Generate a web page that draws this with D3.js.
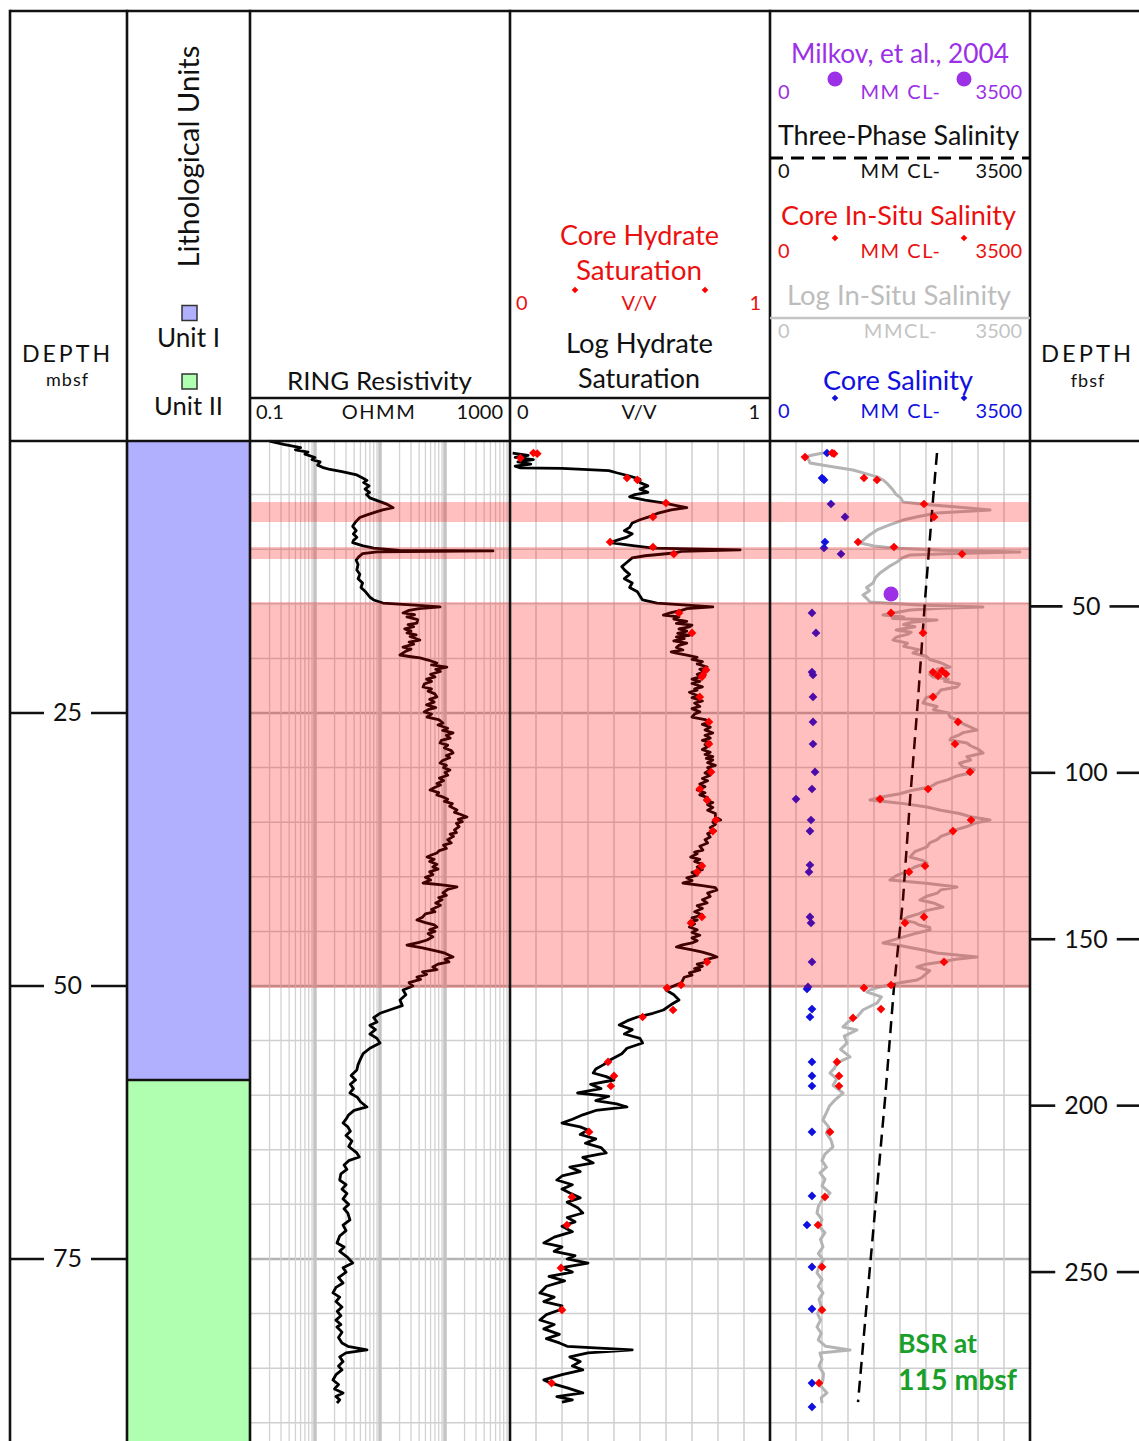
<!DOCTYPE html>
<html><head><meta charset="utf-8">
<script src="https://cdn.jsdelivr.net/npm/d3@7"></script>
<style>
body{margin:0;background:#fff}
svg{display:block}
text{font-family:Lato,"Noto Sans",sans-serif}
</style>
</head><body>
<svg id="chart" width="1139" height="1441"></svg>
<script>
// ---------------- DATA ----------------
const depthTicksM = [25, 50, 75];
const depthTicksFt = [50, 100, 150, 200, 250];
const hydrateZones = [[5.68, 7.51], [9.8, 10.9], [14.84, 50.18]];
const lithUnits = [
  {name: "Unit I", top: 0, base: 58.6, color: "#b0b0ff"},
  {name: "Unit II", top: 58.6, base: 92, color: "#b0ffb0"}
];
// RING resistivity [depth mbsf, ohm-m]
const resistivity = [[0.1,0.2],[0.4,0.33],[0.7,0.6],[0.9,0.5],[1.1,0.78],[1.3,0.7],[1.6,1.0],[1.8,0.9],[2.0,1.2],[2.3,1.1],[2.5,1.3],[2.7,1.7],[2.9,2.6],[3.2,4.4],[3.5,5.5],[3.7,6.3],[3.9,5.6],[4.2,6.8],[4.5,5.9],[4.8,6.9],[5.0,6.2],[5.3,7.0],[5.6,9.5],[5.9,13],[6.2,15.9],[6.4,11],[6.6,8.5],[6.9,6],[7.1,4.9],[7.5,4.2],[7.9,3.8],[8.3,4.3],[8.6,3.9],[8.9,4.4],[9.2,3.9],[9.4,3.8],[9.7,5.5],[9.9,8],[10.1,20],[10.16,547],[10.25,9],[10.4,5.4],[10.7,4.7],[11.0,4.3],[11.4,4.6],[11.9,4.4],[12.3,4.9],[12.7,4.6],[13.1,5.4],[13.5,5.1],[13.9,6.0],[14.4,7.0],[14.65,8],[14.93,11.1],[15.1,30],
[15.29,84],[15.45,40],[15.6,28],[15.84,22.6],[16.0,34],[16.2,26],[16.45,38],[16.76,37],[16.9,27],[17.1,33],[17.3,24],[17.5,30],[17.67,26],[17.85,36],[18.0,29],[18.32,41],[18.5,28],[18.7,33],[18.96,22.6],[19.15,30],[19.4,24],[19.69,20.3],[19.85,30],[19.96,41],[20.15,55],[20.42,75],[20.6,62],[20.79,107],[21.0,72],[21.2,85],[21.45,60],[21.7,70],[21.9,52],[22.1,62],[22.35,48],[22.62,46],[22.8,62],[23.0,55],[23.25,70],[23.53,75],[23.75,58],[24.0,68],[24.25,52],[24.5,72],[24.7,55],[24.9,48],[25.1,62],[25.37,53],[25.6,80],[25.92,93],[26.1,78],[26.4,110],[26.6,92],[26.83,133],[27.05,105],[27.3,120],[27.5,88],[27.75,84],[27.95,110],[28.2,98],[28.45,125],[28.66,133],[28.9,105],[29.1,118],[29.35,92],[29.58,84],[29.8,105],[30.0,95],[30.22,119],[30.45,100],[30.7,110],[30.95,82],[31.2,95],[31.45,75],[31.6,85],[31.85,68],[32.05,59],[32.3,80],[32.5,75],[32.69,93],[32.9,110],[33.1,98],[33.3,130],[33.55,118],[33.88,153],[34.1,140],[34.3,175],[34.52,218],[34.75,160],[34.95,185],[35.1,150],[35.4,165],[35.71,140],[35.95,150],[36.1,120],[36.3,135],[36.6,110],[36.9,125],[37.1,95],[37.4,105],[37.6,82],[37.82,75],[38.0,62],[38.19,53],[38.4,68],[38.6,58],[38.85,75],[39.1,65],[39.3,78],[39.55,58],[39.8,65],[40.05,50],[40.3,60],[40.57,46],[40.75,90],[40.93,153],[41.15,110],[41.48,93],[41.7,105],[41.9,80],[42.1,90],[42.4,72],[42.6,85],[42.77,75],[43.0,62],[43.2,70],[43.4,50],[43.7,45],[43.96,37],[44.2,50],[44.4,68],[44.6,75],[44.85,58],[45.0,70],[45.2,55],[45.5,65],[45.79,53],[46.0,40],[46.25,26],[46.5,45],[46.8,75],[47.0,100],[47.34,133],[47.55,100],[47.8,115],[48.0,78],[48.26,65],[48.5,75],[48.7,45],[48.95,52],[49.18,37],[49.4,42],[49.7,28],[50.0,32],[50.37,22.6],
[50.8,25],[51.28,20.3],[51.8,22],[52.2,14],[52.5,10],[52.9,8],[53.3,9],[53.6,7.0],[54.0,8.5],[54.4,7],[54.8,9],[55.22,10],[55.7,7],[56.2,5.5],[56.7,5.0],[57.2,4.6],[57.69,4.4],[58.2,3.6],[58.6,4.2],[59.0,3.5],[59.4,3.9],[59.8,3.45],[60.2,4.5],[60.6,5.0],[61.08,6.3],[61.4,4.0],[61.8,3.3],[62.2,3.0],[62.55,2.7],[62.9,3.2],[63.3,3.5],[63.7,3.0],[64.2,3.7],[64.7,3.3],[65.29,4.4],[65.66,4.8],[66.0,3.3],[66.4,2.8],[66.8,3.1],[67.2,2.5],[67.77,2.4],[68.2,3.0],[68.6,2.6],[69.0,3.1],[69.5,2.7],[70.0,3.3],[70.4,2.8],[70.8,3.2],[71.43,3.45],[71.9,2.7],[72.4,3.0],[72.9,2.4],[73.53,2.18],[73.9,2.8],[74.3,2.4],[74.8,3.1],[75.37,3.8],[75.8,2.7],[76.2,3.0],[76.7,2.3],[77.2,2.7],[77.6,2.1],[78.11,1.89],[78.5,2.4],[78.9,2.1],[79.4,2.6],[79.8,2.2],[80.2,2.5],[80.6,2.1],[81.0,2.5],[81.23,2.18],[81.7,2.6],[82.2,2.3],[82.7,2.6],[83.0,3.2],[83.33,6.3],[83.6,3.0],[83.97,2.4],[84.4,2.7],[84.8,2.3],[85.16,2.6],[85.6,2.1],[86.08,1.89],[86.5,2.3],[86.9,2.0],[87.27,2.7],[87.6,2.1],[87.9,2.4],[88.19,2.18]];
// Log hydrate saturation [depth, v/v]
const hydrateLog = [[1.2,0.01],[1.4,0.07],[1.6,0.02],[1.8,0.09],[2.0,0.03],[2.2,0.08],[2.4,0.02],[2.56,0.04],[2.6,0.2],[2.8,0.38],[3.0,0.41],[3.3,0.46],[3.6,0.5],[3.9,0.5],[4.2,0.53],[4.5,0.5],[4.8,0.53],[5.0,0.48],[5.2,0.46],[5.5,0.52],[5.8,0.6],[6.0,0.64],[6.2,0.68],[6.4,0.62],[6.7,0.57],[7.0,0.54],[7.3,0.5],[7.6,0.47],[8.0,0.46],[8.3,0.44],[8.6,0.47],[8.9,0.45],[9.2,0.41],[9.4,0.385],[9.7,0.48],[9.9,0.55],[10.07,0.885],[10.2,0.66],[10.35,0.63],[10.6,0.52],[10.8,0.47],[11.2,0.45],[11.6,0.43],[11.9,0.44],[12.3,0.46],[12.7,0.44],[13.1,0.47],[13.5,0.46],[13.9,0.49],[14.3,0.5],[14.65,0.51],[14.93,0.565],
[15.29,0.78],[15.45,0.68],[15.6,0.66],[15.8,0.62],[16.03,0.59],[16.2,0.65],[16.4,0.63],[16.6,0.68],[16.8,0.64],[16.95,0.70],[17.12,0.69],[17.3,0.65],[17.5,0.68],[17.7,0.645],[17.9,0.69],[18.04,0.64],[18.2,0.67],[18.4,0.63],[18.6,0.68],[18.8,0.65],[19.0,0.64],[19.23,0.665],[19.4,0.62],[19.51,0.64],[19.7,0.68],[19.9,0.72],[20.1,0.70],[20.3,0.74],[20.5,0.72],[20.79,0.758],[21.0,0.73],[21.2,0.75],[21.45,0.72],[21.7,0.73],[21.9,0.70],[22.1,0.73],[22.3,0.70],[22.6,0.74],[22.8,0.71],[22.9,0.72],[23.1,0.69],[23.4,0.72],[23.6,0.70],[23.9,0.74],[24.1,0.71],[24.4,0.73],[24.6,0.70],[24.9,0.73],[25.1,0.71],[25.37,0.70],[25.6,0.75],[25.82,0.77],[26.05,0.74],[26.3,0.77],[26.55,0.75],[26.83,0.78],[27.05,0.75],[27.3,0.77],[27.5,0.74],[27.7,0.77],[27.9,0.75],[28.11,0.758],[28.35,0.74],[28.6,0.77],[28.8,0.75],[29.0,0.78],[29.15,0.755],[29.3,0.78],[29.55,0.76],[29.8,0.79],[30.0,0.76],[30.2,0.77],[30.49,0.75],[30.7,0.77],[31.0,0.74],[31.2,0.76],[31.5,0.73],[31.75,0.75],[32.05,0.72],[32.3,0.75],[32.5,0.73],[32.75,0.76],[32.97,0.75],[33.2,0.78],[33.4,0.76],[33.65,0.78],[33.9,0.76],[34.2,0.79],[34.52,0.79],[34.8,0.81],[35.0,0.78],[35.2,0.79],[35.5,0.77],[35.8,0.79],[36.05,0.76],[36.36,0.77],[36.6,0.75],[36.9,0.76],[37.2,0.73],[37.55,0.742],[37.75,0.71],[37.9,0.72],[38.19,0.695],[38.4,0.73],[38.6,0.71],[38.85,0.74],[39.1,0.72],[39.35,0.74],[39.6,0.70],[39.85,0.72],[40.1,0.68],[40.35,0.70],[40.57,0.665],[40.8,0.74],[41.0,0.79],[41.21,0.796],[41.5,0.76],[41.8,0.77],[42.1,0.74],[42.4,0.758],[42.65,0.72],[42.9,0.74],[43.2,0.71],[43.5,0.74],[43.75,0.70],[43.96,0.72],[44.15,0.69],[44.3,0.71],[44.6,0.69],[44.85,0.72],[45.1,0.70],[45.35,0.73],[45.6,0.70],[45.85,0.72],[46.06,0.70],[46.25,0.66],[46.43,0.64],[46.7,0.70],[46.9,0.74],[47.1,0.77],[47.34,0.796],[47.6,0.75],[47.8,0.76],[48.0,0.72],[48.2,0.74],[48.4,0.71],[48.53,0.73],[48.8,0.69],[49.0,0.70],[49.2,0.67],[49.45,0.665],[49.7,0.66],[49.9,0.64],[50.1,0.62],[50.37,0.60],
[50.8,0.63],[51.28,0.65],[51.7,0.62],[52.2,0.59],[52.5,0.55],[52.84,0.49],[53.2,0.45],[53.57,0.42],[54.0,0.47],[54.4,0.44],[54.8,0.5],[55.22,0.51],[55.7,0.45],[56.2,0.43],[56.78,0.385],[57.2,0.36],[57.6,0.33],[57.97,0.32],[58.3,0.37],[58.61,0.40],[59.0,0.31],[59.4,0.35],[59.8,0.26],[60.1,0.38],[60.5,0.33],[60.8,0.41],[61.08,0.45],[61.4,0.33],[61.8,0.28],[62.2,0.24],[62.55,0.20],[62.9,0.27],[63.19,0.30],[63.6,0.27],[64.0,0.33],[64.4,0.29],[64.8,0.35],[65.29,0.37],[65.7,0.28],[66.2,0.32],[66.58,0.23],[67.0,0.27],[67.4,0.2],[67.77,0.18],[68.2,0.24],[68.6,0.2],[68.96,0.23],[69.4,0.27],[69.8,0.22],[70.3,0.26],[70.79,0.28],[71.2,0.22],[71.6,0.25],[72.0,0.2],[72.5,0.24],[73.0,0.17],[73.53,0.13],[73.9,0.2],[74.3,0.17],[74.7,0.25],[75.0,0.22],[75.37,0.30],[75.8,0.2],[76.2,0.24],[76.6,0.15],[77.0,0.21],[77.5,0.14],[78.11,0.115],[78.5,0.17],[78.9,0.13],[79.3,0.2],[79.67,0.19],[80.1,0.14],[80.59,0.115],[81.0,0.17],[81.4,0.13],[81.9,0.19],[82.3,0.14],[82.69,0.19],[83.0,0.22],[83.33,0.47],[83.6,0.3],[83.97,0.23],[84.4,0.27],[84.8,0.24],[85.16,0.28],[85.6,0.2],[86.08,0.13],[86.4,0.16],[86.8,0.22],[87.27,0.28],[87.6,0.18],[87.9,0.24],[88.1,0.20]];
// Core hydrate saturation [depth, v/v]
const hydrateCore = [[1.65,0.04],[1.19,0.09],[1.25,0.105],[3.48,0.45],[3.66,0.49],[5.77,0.60],[7.05,0.55],[9.34,0.385],[9.80,0.55],[10.44,0.63],[15.84,0.65],[17.67,0.70],[21.06,0.754],[21.52,0.742],[21.70,0.738],[23.53,0.73],[25.82,0.765],[27.84,0.765],[30.40,0.773],[31.96,0.73],[32.97,0.758],[34.80,0.792],[35.81,0.78],[39.01,0.738],[39.56,0.72],[43.68,0.738],[44.23,0.696],[47.80,0.758],[49.91,0.658],[50.18,0.604],[52.20,0.627],[52.84,0.51],[56.96,0.377],[58.24,0.40],[59.16,0.388],[63.37,0.304],[69.32,0.238],[71.89,0.219],[75.82,0.196],[79.67,0.20],[86.36,0.16]];
// Log in-situ salinity [depth, mM Cl-]
const salinityLog = [[1.19,713],[1.4,560],[1.56,471],[1.8,520],[2.11,538],[2.4,800],[2.75,1117],[3.1,1300],[3.4,1450],[3.66,1521],[4.0,1580],[4.3,1620],[4.58,1656],[5.0,1700],[5.3,1760],[5.68,1790],[5.9,2100],[6.14,2517],[6.41,2962],[6.68,2248],[7.0,2000],[7.33,1790],[7.8,1600],[8.24,1440],[8.8,1320],[9.43,1211],[9.7,1400],[9.89,1656],[10.1,2300],[10.26,3365],[10.4,2500],[10.53,1885],[10.8,1780],[11.17,1710],[11.6,1600],[12.18,1481],[12.6,1420],[13.1,1387],[13.5,1300],[13.8,1340],[14.19,1252],[14.5,1300],[14.84,1346],[15.1,2000],
[15.29,2867],[15.4,2300],[15.57,1885],[15.8,1700],[16.03,1521],[16.2,1800],[16.35,1650],[16.48,2248],[16.7,1900],[16.9,1800],[17.1,1950],[17.4,1700],[17.6,1900],[17.8,1850],[18.05,1700],[18.32,1656],[18.6,1850],[18.9,1800],[19.2,2000],[19.51,1925],[19.8,2100],[20.1,2150],[20.4,2300],[20.79,2423],[21.0,2250],[21.2,2300],[21.45,2150],[21.70,2194],[21.9,2400],[22.1,2350],[22.35,2550],[22.62,2517],[22.9,2300],[23.3,2250],[23.6,2100],[24.08,2060],[24.4,2250],[24.7,2200],[25.0,2400],[25.37,2423],[25.7,2550],[26.0,2600],[26.3,2700],[26.56,2786],[26.8,2600],[27.0,2550],[27.25,2450],[27.47,2423],[27.75,2650],[28.0,2700],[28.3,2800],[28.66,2867],[29.0,2650],[29.3,2700],[29.6,2550],[29.95,2598],[30.2,2750],[30.49,2692],[30.8,2500],[31.1,2400],[31.4,2250],[31.78,2154],[32.1,1900],[32.4,1750],[32.7,1500],[32.97,1346],[33.15,1600],[33.3,1800],[33.61,2113],[33.9,2300],[34.2,2550],[34.5,2700],[34.80,2962],[35.1,2750],[35.4,2650],[35.7,2500],[35.99,2423],[36.3,2300],[36.6,2250],[36.9,2150],[37.27,2113],[37.7,1950],[38.19,1885],[38.5,2050],[38.74,2113],[39.1,1950],[39.5,1850],[39.9,1700],[40.29,1615],[40.6,2100],[40.93,2517],[41.2,2300],[41.5,2250],[41.8,2100],[42.12,2019],[42.4,2200],[42.77,2329],[43.1,2100],[43.4,2000],[43.7,1850],[43.96,1790],[44.2,1950],[44.4,2000],[44.65,2150],[44.87,2154],[45.2,1950],[45.5,1800],[45.8,1650],[46.06,1521],[46.3,1750],[46.5,1900],[46.75,2100],[46.98,2248],[47.34,2786],[47.55,2500],[47.8,2300],[48.0,2100],[48.26,1979],[48.6,2150],[48.9,2100],[49.2,2050],[49.45,1979],[49.7,1750],[49.9,1600],[50.15,1450],[50.37,1346],
[50.55,1306],[51.0,1500],[51.56,1440],[52.2,1250],[52.84,1171],[53.3,1050],[53.75,983],[54.03,1171],[54.6,1000],[55.22,1037],[55.8,950],[56.5,1077],[57.05,902],[57.5,870],[57.97,808],[58.5,900],[59.1,850],[59.80,983],[60.4,880],[61.0,800],[61.6,760],[62.27,713],[62.9,790],[63.5,760],[64.1,820],[64.74,848],[65.4,740],[66.0,700],[66.6,760],[67.12,673],[67.7,740],[68.3,700],[68.96,808],[69.6,700],[70.2,650],[70.79,633],[71.4,700],[72.0,660],[72.6,740],[73.2,680],[73.90,713],[74.5,650],[75.1,720],[75.7,660],[76.28,633],[76.9,700],[77.5,650],[78.11,713],[78.7,660],[79.4,690],[80.0,640],[80.6,680],[81.23,633],[81.8,690],[82.4,650],[83.0,750],[83.33,1077],[83.61,673],[84.2,700],[84.8,660],[85.5,720],[86.08,713],[86.6,680],[87.27,767],[87.7,690],[88.19,700]];
// Core in-situ salinity [depth, mM Cl-]
const salinityCoreInSitu = [[1.56,471],[1.19,835],[1.25,862],[3.48,1265],[3.66,1440],[5.86,2073],[7.05,2208],[9.34,1185],[9.80,1669],[10.44,2585],[15.84,1629],[17.67,2060],[21.25,2194],[21.15,2315],[21.61,2262],[21.43,2369],[23.53,2194],[25.82,2531],[27.84,2490],[30.40,2692],[31.96,2127],[32.88,1481],[34.80,2706],[35.81,2463],[39.01,2087],[39.56,1871],[43.68,2073],[44.23,1817],[47.80,2342],[49.91,1629],[50.18,1265],[52.11,1494],[52.93,1117],[56.96,902],[58.24,929],[59.16,929],[63.37,808],[69.32,740],[71.89,646],[75.73,700],[79.67,700],[86.36,660]];
// Core salinity [depth, mM Cl-]
const salinityCore = [[1.19,767],[3.48,700],[3.66,727],[5.86,821],[7.05,1010],[9.34,740],[9.89,727],[10.44,956],[15.84,565],[17.67,619],[21.25,565],[21.52,579],[23.53,579],[25.82,579],[27.84,579],[30.40,606],[31.96,565],[32.88,350],[34.80,552],[35.81,538],[38.92,538],[39.56,525],[43.68,538],[44.23,552],[47.80,565],[50.09,511],[50.27,498],[52.11,565],[52.84,538],[56.96,565],[58.24,565],[59.16,565],[63.37,565],[69.23,565],[71.89,498],[75.73,565],[79.58,565],[86.36,565],[88.55,565]];
// Three-phase salinity [depth, mM Cl-]
const threePhase = [[1.19,2248],[5.49,2194],[10.07,2140],[14.65,2087],[23.8,1992],[32.97,1885],[42.1,1790],[50.1,1669],[60.4,1548],[69.6,1427],[78.75,1306],[88.1,1185]];
// Milkov et al., 2004 [depth, mM Cl-]
const milkov = [[14.1,1629]];

// ---------------- LAYOUT ----------------
const svg = d3.select("#chart");
const TOP = 11, HB = 441, BOT = 1441;
const X = {d0: 10, lith: 127, res: 250, sat: 510, sal: 770, d1: 1030, end: 1139};
const y = d3.scaleLinear().domain([0, 91.67]).range([440, 1441]);
const xRes = d3.scaleLog().domain([0.1, 1000]).range([X.res, X.sat]);
const xSat = d3.scaleLinear().domain([0, 1]).range([X.sat, X.sal]);
const xSal = d3.scaleLinear().domain([0, 3500]).range([X.sal, X.d1]);
const ftToM = 0.3048;

const PURPLE = "#9b30e6", RED = "#ea1010", BLUE = "#1010e0", GRAY = "#b4b4b4", GREEN = "#1aa02a";

function txt(g, x, yy, s, o = {}) {
  const t = g.append("text").attr("x", x).attr("y", yy).text(s)
    .attr("font-size", o.size || 20)
    .attr("text-anchor", o.anchor || "middle")
    .attr("fill", o.fill || "#111");
  if (o.weight) t.attr("font-weight", o.weight);
  if (o.ls) t.attr("letter-spacing", o.ls);
  if (o.width) {
    for (let i = 0; i < 2; i++) {
      const len = t.node().getComputedTextLength();
      const fs = +t.attr("font-size");
      t.attr("font-size", fs * o.width / len);
    }
  }
  return t;
}

// ---------------- GRID ----------------
const grid = svg.append("g");
const gridDepths = d3.range(5, 91, 5);
grid.selectAll("line.h").data(gridDepths).join("line")
  .attr("x1", X.res).attr("x2", X.d1)
  .attr("y1", d => y(d)).attr("y2", d => y(d))
  .attr("stroke", d => d % 25 === 0 ? "#b4b4b4" : "#cfcfcf")
  .attr("stroke-width", d => d % 25 === 0 ? 2.4 : 1.5);

const resGrid = [];
[0.1, 1, 10, 100].forEach(dec => { for (let m = 1; m <= 9; m++) { const v = m * dec; if (v > 0.1) resGrid.push(v); } });
grid.selectAll("line.r").data(resGrid).join("line")
  .attr("x1", d => xRes(d)).attr("x2", d => xRes(d))
  .attr("y1", HB).attr("y2", BOT)
  .attr("stroke", d => [1, 10, 100].includes(d) ? "#c4c4c4" : "#d2d2d2")
  .attr("stroke-width", d => [1, 10, 100].includes(d) ? 3.5 : 1.3);

grid.selectAll("line.s").data(d3.range(0.1, 0.95, 0.1)).join("line")
  .attr("x1", d => xSat(d)).attr("x2", d => xSat(d))
  .attr("y1", HB).attr("y2", BOT).attr("stroke", "#cfcfcf").attr("stroke-width", 1.5);
grid.selectAll("line.c").data(d3.range(350, 3400, 350)).join("line")
  .attr("x1", d => xSal(d)).attr("x2", d => xSal(d))
  .attr("y1", HB).attr("y2", BOT).attr("stroke", "#cfcfcf").attr("stroke-width", 1.5);

// ---------------- LITHOLOGY ----------------
svg.append("g").selectAll("rect").data(lithUnits).join("rect")
  .attr("x", X.lith).attr("width", X.res - X.lith)
  .attr("y", d => Math.max(y(d.top), HB)).attr("height", d => y(d.base) - Math.max(y(d.top), HB))
  .attr("fill", d => d.color).attr("stroke", "#222").attr("stroke-width", 1.5);
svg.append("line").attr("x1", X.lith).attr("x2", X.res)
  .attr("y1", y(lithUnits[1].top)).attr("y2", y(lithUnits[1].top))
  .attr("stroke", "#111").attr("stroke-width", 2.5);

// ---------------- CURVES ----------------
const curves = svg.append("g");
const lineRes = d3.line().x(d => xRes(d[1])).y(d => y(d[0]));
const lineSat = d3.line().x(d => xSat(d[1])).y(d => y(d[0]));
const lineSal = d3.line().x(d => xSal(d[1])).y(d => y(d[0]));
curves.append("path").datum(resistivity).attr("d", lineRes)
  .attr("fill", "none").attr("stroke", "#000").attr("stroke-width", 2.8).attr("stroke-linejoin", "round");
curves.append("path").datum(hydrateLog).attr("d", lineSat)
  .attr("fill", "none").attr("stroke", "#000").attr("stroke-width", 2.8).attr("stroke-linejoin", "round");
curves.append("path").datum(salinityLog).attr("d", lineSal)
  .attr("fill", "none").attr("stroke", GRAY).attr("stroke-width", 3).attr("stroke-linejoin", "round");
curves.append("path").datum(threePhase).attr("d", lineSal)
  .attr("fill", "none").attr("stroke", "#000").attr("stroke-width", 2.5).attr("stroke-dasharray", "12,7");

const diamond = d3.symbol(d3.symbolSquare, 38);
function diamonds(data, xs, color) {
  curves.append("g").selectAll("path").data(data).join("path")
    .attr("d", diamond)
    .attr("transform", d => `translate(${xs(d[1])},${y(d[0])}) rotate(45)`)
    .attr("fill", color);
}
diamonds(salinityCore, xSal, BLUE);
diamonds(salinityCoreInSitu, xSal, "#ff0000");
diamonds(hydrateCore, xSat, "#ff0000");
curves.append("g").selectAll("circle").data(milkov).join("circle")
  .attr("cx", d => xSal(d[1])).attr("cy", d => y(d[0])).attr("r", 7.5).attr("fill", PURPLE);

// ---------------- HYDRATE ZONES (overlay) ----------------
svg.append("g").selectAll("rect").data(hydrateZones).join("rect")
  .attr("x", X.res).attr("width", X.d1 - X.res)
  .attr("y", d => y(d[0])).attr("height", d => y(d[1]) - y(d[0]))
  .attr("fill", "#ff0000").attr("fill-opacity", 0.25);

// ---------------- FRAME ----------------
const frame = svg.append("g").attr("stroke", "#111").attr("stroke-width", 2.6);
[X.d0, X.lith, X.res, X.sat, X.sal, X.d1].forEach(x =>
  frame.append("line").attr("x1", x).attr("x2", x).attr("y1", TOP - 1.3).attr("y2", BOT));
frame.append("line").attr("x1", X.d0).attr("x2", X.end).attr("y1", TOP).attr("y2", TOP);
frame.append("line").attr("x1", X.d0).attr("x2", X.end).attr("y1", HB).attr("y2", HB);
frame.append("line").attr("x1", X.res).attr("x2", X.sal).attr("y1", 398).attr("y2", 398);

// ---------------- DEPTH AXES ----------------
const ax = svg.append("g");
function depthTick(yy, label, x0, x1, cx) {
  const t = txt(ax, cx, yy + 8.5, label, {size: 25});
  const w = t.node().getComputedTextLength();
  ax.append("line").attr("x1", x0).attr("x2", cx - w / 2 - 9).attr("y1", yy).attr("y2", yy).attr("stroke", "#111").attr("stroke-width", 2.6);
  ax.append("line").attr("x1", cx + w / 2 + 9).attr("x2", x1).attr("y1", yy).attr("y2", yy).attr("stroke", "#111").attr("stroke-width", 2.6);
}
depthTicksM.forEach(d => depthTick(y(d), String(d), X.d0, X.lith, 67.5));
depthTicksFt.forEach(f => depthTick(y(f * ftToM), String(f), X.d1, X.end, 1086));

// ---------------- HEADER ----------------
const h = svg.append("g");
txt(h, 67.5, 362, "DEPTH", {size: 25, ls: 3, width: 91});
txt(h, 67.5, 386, "mbsf", {size: 18, ls: 1});
txt(h, 1087.5, 362, "DEPTH", {size: 25, ls: 3, width: 93});
txt(h, 1088, 387, "fbsf", {size: 18, ls: 1});

// lithology header
txt(h, 0, 0, "Lithological Units", {size: 28, width: 222})
  .attr("transform", "translate(199,156.5) rotate(-90)");
h.append("rect").attr("x", 182).attr("y", 305.5).attr("width", 15).attr("height", 15)
  .attr("fill", lithUnits[0].color).attr("stroke", "#333").attr("stroke-width", 1.5);
txt(h, 188.5, 347, lithUnits[0].name, {size: 26, width: 63});
h.append("rect").attr("x", 182).attr("y", 374).attr("width", 15).attr("height", 15)
  .attr("fill", lithUnits[1].color).attr("stroke", "#333").attr("stroke-width", 1.5);
txt(h, 188.5, 415, lithUnits[1].name, {size: 26, width: 69});

// resistivity header
txt(h, 379.5, 390, "RING Resistivity", {size: 25, width: 185});
txt(h, 256, 419, "0.1", {size: 20, anchor: "start"});
txt(h, 379, 419, "OHMM", {size: 20, ls: 1.5});
txt(h, 503, 419, "1000", {size: 20, anchor: "end"});

// hydrate header
const smallDiamond = d3.symbol(d3.symbolSquare, 22);
txt(h, 639.5, 245, "Core Hydrate", {size: 25, fill: RED, width: 159});
txt(h, 639, 280, "Saturation", {size: 25, fill: RED, width: 126});
txt(h, 516, 310, "0", {size: 20, anchor: "start", fill: RED});
txt(h, 639, 310, "V/V", {size: 20, fill: RED});
txt(h, 761, 310, "1", {size: 20, anchor: "end", fill: RED});
h.selectAll("path.hd").data([575, 705]).join("path").attr("d", smallDiamond)
  .attr("transform", d => `translate(${d},290) rotate(45)`).attr("fill", "#ff0000");
txt(h, 639.5, 353, "Log Hydrate", {size: 25, width: 147});
txt(h, 639, 388, "Saturation", {size: 25, width: 122});
txt(h, 517, 419, "0", {size: 20, anchor: "start"});
txt(h, 639, 419, "V/V", {size: 20});
txt(h, 760, 419, "1", {size: 20, anchor: "end"});

// salinity header
function scaleRow(yy, color, label) {
  txt(h, 778, yy, "0", {size: 20, anchor: "start", fill: color});
  txt(h, 901, yy, label, {size: 20, fill: color, ls: 1.5});
  txt(h, 1022, yy, "3500", {size: 20, anchor: "end", fill: color});
}
txt(h, 900, 63, "Milkov, et al., 2004", {size: 25, fill: PURPLE, width: 218});
h.selectAll("circle.mk").data([835, 964]).join("circle").attr("cx", d => d).attr("cy", 79).attr("r", 7.5).attr("fill", PURPLE);
scaleRow(99, PURPLE, "MM CL-");
txt(h, 898.5, 145, "Three-Phase Salinity", {size: 25, width: 241});
h.append("line").attr("x1", X.sal).attr("x2", X.d1).attr("y1", 158).attr("y2", 158)
  .attr("stroke", "#000").attr("stroke-width", 2.8).attr("stroke-dasharray", "13,8");
scaleRow(178, "#111", "MM CL-");
txt(h, 898.5, 225, "Core In-Situ Salinity", {size: 25, fill: RED, width: 235});
h.selectAll("path.cd").data([835, 964]).join("path").attr("d", smallDiamond)
  .attr("transform", d => `translate(${d},238) rotate(45)`).attr("fill", "#ff0000");
scaleRow(258, RED, "MM CL-");
txt(h, 899, 305, "Log In-Situ Salinity", {size: 25, fill: "#bdbdbd", width: 224});
h.append("line").attr("x1", X.sal).attr("x2", X.d1).attr("y1", 318).attr("y2", 318)
  .attr("stroke", "#c4c4c4").attr("stroke-width", 2.6);
scaleRow(338, "#c4c4c4", "MMCL-");
txt(h, 898, 390, "Core Salinity", {size: 25, fill: BLUE, width: 150});
h.selectAll("path.bd").data([835, 964]).join("path").attr("d", smallDiamond)
  .attr("transform", d => `translate(${d},398) rotate(45)`).attr("fill", BLUE);
scaleRow(418, BLUE, "MM CL-");

// BSR annotation
txt(h, 898, 1353, "BSR at", {size: 27, anchor: "start", fill: GREEN, weight: "bold", width: 79});
txt(h, 898, 1390, "115 mbsf", {size: 27, anchor: "start", fill: GREEN, weight: "bold", width: 119});
</script>
</body></html>
